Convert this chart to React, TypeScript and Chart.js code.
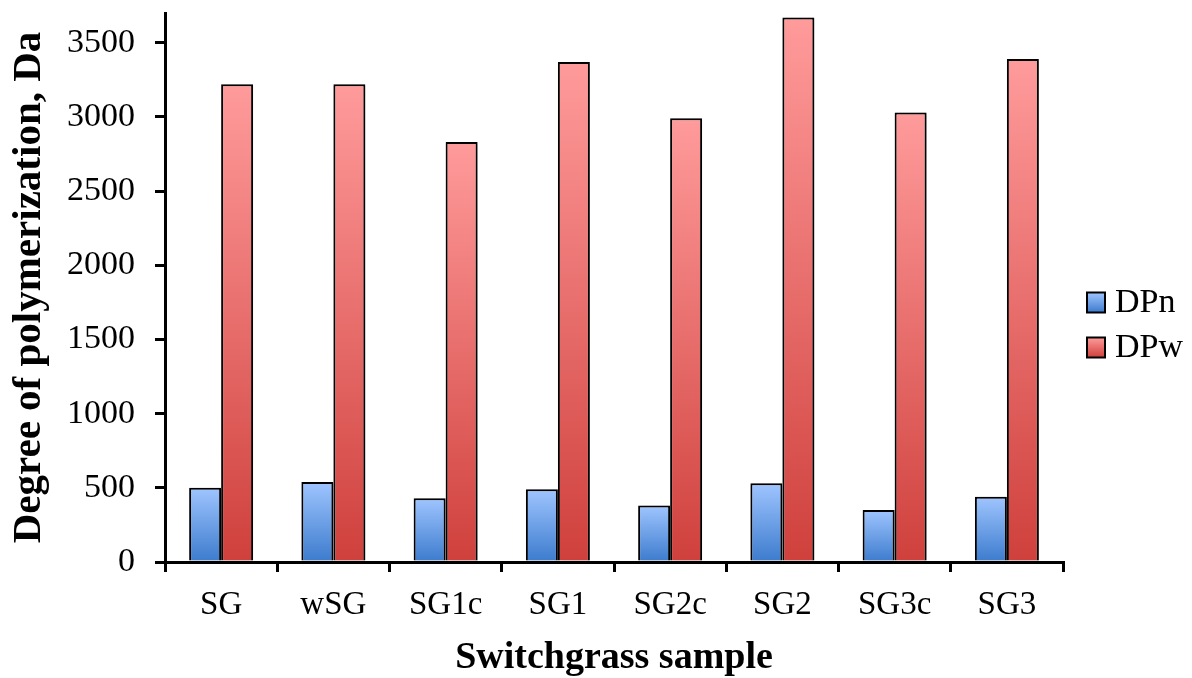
import React, { useEffect, useRef } from "react";
import { Chart, registerables } from "chart.js";

Chart.register(...registerables);

const categories = ["SG", "wSG", "SG1c", "SG1", "SG2c", "SG2", "SG3c", "SG3"];
const dpnValues = [500, 540, 430, 490, 380, 530, 350, 440];
const dpwValues = [3220, 3220, 2830, 3370, 2990, 3670, 3030, 3390];
const yTicks = [0, 500, 1000, 1500, 2000, 2500, 3000, 3500];
const yMax = 3700;

const FONT = "'Liberation Serif', 'Times New Roman', serif";

const blueTop = "#9fc5ff";
const blueBottom = "#3c7bcd";
const redTop = "#ff9b9b";
const redBottom = "#cf403c";

function gradientFill(top: string, bottom: string, solid: string) {
  return (ctx: any) => {
    const chart = ctx.chart;
    if (!chart.chartArea || ctx.type !== "data") return solid;
    const ys = chart.scales.y;
    const t = ys.getPixelForValue(ctx.raw);
    const b = ys.getPixelForValue(0);
    if (!isFinite(t) || !isFinite(b) || t === b) return solid;
    const g = chart.ctx.createLinearGradient(0, t, 0, b);
    g.addColorStop(0, top);
    g.addColorStop(1, bottom);
    return g;
  };
}

const shadowPlugin = {
  id: "barShadow",
  beforeDatasetsDraw(chart: any) {
    const c = chart.ctx;
    c.save();
    c.shadowColor = "rgba(0,0,0,0.25)";
    c.shadowBlur = 4;
    c.shadowOffsetX = 2;
    c.shadowOffsetY = 1;
  },
  afterDatasetsDraw(chart: any) {
    chart.ctx.restore();
  },
};

const legendColors = [
  [blueTop, blueBottom],
  [redTop, redBottom],
];

const sideLegendPlugin = {
  id: "sideLegend",
  afterDraw(chart: any) {
    const c = chart.ctx;
    const area = chart.chartArea;
    const cy = (area.top + area.bottom) / 2 + 15;
    c.save();
    chart.data.datasets.forEach((ds: any, i: number) => {
      const y = cy + i * 45;
      const x = area.right + 24;
      const g = c.createLinearGradient(0, y - 10, 0, y + 10);
      g.addColorStop(0, legendColors[i][0]);
      g.addColorStop(1, legendColors[i][1]);
      c.fillStyle = g;
      c.fillRect(x, y - 10, 18, 20);
      c.strokeStyle = "#000";
      c.lineWidth = 2;
      c.strokeRect(x, y - 10, 18, 20);
      c.fillStyle = "#000";
      c.font = "34px " + FONT;
      c.textBaseline = "middle";
      c.textAlign = "left";
      c.fillText(ds.label, x + 28, y + 1);
    });
    c.restore();
  },
};

export default function App() {
  const ref = useRef<HTMLCanvasElement>(null);
  useEffect(() => {
    if (!ref.current) return;
    const chart = new Chart(ref.current, {
      type: "bar",
      data: {
        labels: categories,
        datasets: [
          {
            label: "DPn",
            data: dpnValues,
            backgroundColor: gradientFill(blueTop, blueBottom, "#6fa0e6"),
            borderColor: "#000",
            borderWidth: 2,
            barPercentage: 1,
            categoryPercentage: 0.57,
          },
          {
            label: "DPw",
            data: dpwValues,
            backgroundColor: gradientFill(redTop, redBottom, "#e57070"),
            borderColor: "#000",
            borderWidth: 2,
            barPercentage: 1,
            categoryPercentage: 0.57,
          },
        ],
      },
      plugins: [shadowPlugin, sideLegendPlugin],
      options: {
        animation: false,
        responsive: true,
        maintainAspectRatio: false,
        layout: { padding: { top: 13, right: 129, left: 0, bottom: 1 } },
        plugins: {
          tooltip: { enabled: false },
          legend: { display: false },
        },
        scales: {
          x: {
            afterFit: (axis: any) => {
              axis.height = 115;
              axis.paddingLeft = 0;
              axis.paddingRight = 0;
            },
            grid: {
              display: true,
              drawOnChartArea: false,
              drawTicks: true,
              tickLength: 10,
              color: "#000",
              lineWidth: 3,
              offset: true,
            },
            border: { display: true, color: "#000", width: 3 },
            ticks: { color: "#000", font: { family: FONT, size: 33 }, padding: 14 },
            title: {
              display: true,
              text: "Switchgrass sample",
              color: "#000",
              font: { family: FONT, size: 38, weight: "bold", lineHeight: 1.0 },
              padding: { top: 2, bottom: 0 },
            },
          },
          y: {
            min: 0,
            max: yMax,
            afterBuildTicks: (axis: any) => {
              axis.ticks = yTicks.map((v) => ({ value: v }));
            },
            afterFit: (axis: any) => {
              axis.width = 165;
              axis.paddingTop = 0;
              axis.paddingBottom = 0;
            },
            grid: {
              display: true,
              drawOnChartArea: false,
              drawTicks: true,
              tickLength: 10,
              color: "#000",
              lineWidth: 3,
            },
            border: { display: true, color: "#000", width: 3 },
            ticks: {
              autoSkip: false,
              color: "#000",
              font: { family: FONT, size: 34 },
              padding: 20,
              callback: (v: any) => String(v),
            },
            title: {
              display: true,
              text: "Degree of polymerization, Da",
              color: "#000",
              font: { family: FONT, size: 41, weight: "bold" },
              padding: { top: 5, bottom: 12 },
            },
          },
        },
      },
    });
    return () => chart.destroy();
  }, []);
  return (
    <div style={{ position: "fixed", left: 0, top: 0, width: 1192, height: 678, background: "#fff" }}>
      <canvas ref={ref} />
    </div>
  );
}
